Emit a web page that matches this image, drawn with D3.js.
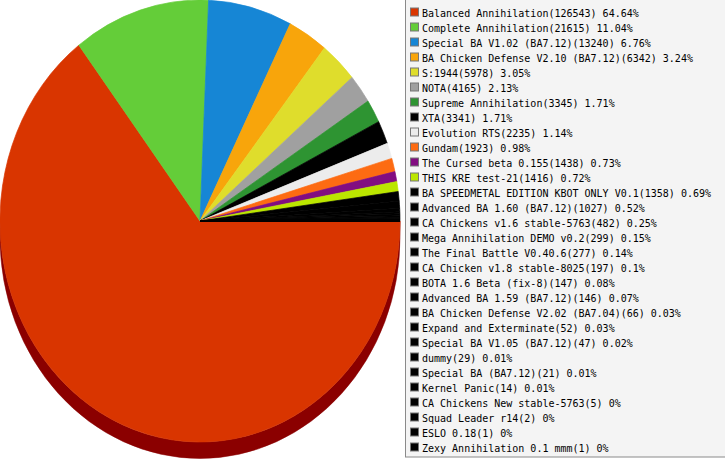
<!DOCTYPE html>
<html>
<head>
<meta charset="utf-8">
<script src="https://cdn.jsdelivr.net/npm/d3@7/dist/d3.min.js"></script>
<style>
html,body{margin:0;padding:0;background:#fff;}
svg{display:block;}
</style>
</head>
<body>
<svg id="chart" width="725" height="460"></svg>
<script>
const categories = [
  "Balanced Annihilation", "Complete Annihilation", "Special BA V1.02 (BA7.12)",
  "BA Chicken Defense V2.10 (BA7.12)", "S:1944", "NOTA", "Supreme Annihilation", "XTA",
  "Evolution RTS", "Gundam", "The Cursed beta 0.155", "THIS KRE test-21",
  "BA SPEEDMETAL EDITION KBOT ONLY V0.1", "Advanced BA 1.60 (BA7.12)",
  "CA Chickens v1.6 stable-5763", "Mega Annihilation DEMO v0.2", "The Final Battle V0.40.6",
  "CA Chicken v1.8 stable-8025", "BOTA 1.6 Beta (fix-8)", "Advanced BA 1.59 (BA7.12)",
  "BA Chicken Defense V2.02 (BA7.04)", "Expand and Exterminate", "Special BA V1.05 (BA7.12)",
  "dummy", "Special BA (BA7.12)", "Kernel Panic", "CA Chickens New stable-5763",
  "Squad Leader r14", "ESLO 0.18", "Zexy Annihilation 0.1 mmm"
];
const values = [
  126543, 21615, 13240, 6342, 5978, 4165, 3345, 3341, 2235, 1923, 1438, 1416,
  1358, 1027, 482, 299, 277, 197, 147, 146, 66, 52, 47, 29, 21, 14, 5, 2, 1, 1
];
const colors = [
  "#d93500", "#64cd39", "#1686d5", "#f8a50b", "#dfdd2c", "#a0a0a0", "#2e9432", "#000000",
  "#ececec", "#fd6b12", "#820d81", "#bbe600"
];
const sideColors = ["#8b0000"];
const otherColor = "#000000";

const data = categories.map((c, i) => ({
  name: c, value: values[i], color: colors[i] || otherColor,
  side: sideColors[i] || d3.color(colors[i] || otherColor).darker(1.2).formatHex()
}));
const total = d3.sum(values);

const svg = d3.select("#chart");
const cx = 200, cy = 221, rx = 200, ry = 221, depth = 16.5;

// d3.pie angles are clockwise from 12 o'clock; start at 3 o'clock
const pie = d3.pie().value(d => d.value).sort(null)
  .startAngle(Math.PI / 2).endAngle(Math.PI / 2 + 2 * Math.PI);
const arcs = pie(data);
const toScreen = a => a - Math.PI / 2; // clockwise from east
const pt = (t, dy = 0) => [cx + rx * Math.cos(t), cy + ry * Math.sin(t) + dy];

function slicePath(t0, t1) {
  const p0 = pt(t0), p1 = pt(t1);
  const large = (t1 - t0) > Math.PI ? 1 : 0;
  return `M${cx},${cy}L${p0[0]},${p0[1]}A${rx},${ry} 0 ${large} 1 ${p1[0]},${p1[1]}Z`;
}
function sidePath(t0, t1) {
  const s = Math.max(t0, 0), e = Math.min(t1, Math.PI);
  if (e <= s) return null;
  const a = pt(s), b = pt(e), c = pt(e, depth), d = pt(s, depth);
  return `M${a[0]},${a[1]}A${rx},${ry} 0 0 1 ${b[0]},${b[1]}L${c[0]},${c[1]}A${rx},${ry} 0 0 0 ${d[0]},${d[1]}Z`;
}

const gPie = svg.append("g");
// side faces
arcs.forEach(a => {
  const p = sidePath(toScreen(a.startAngle), toScreen(a.endAngle));
  if (p) gPie.append("path").attr("d", p)
    .attr("fill", a.data.side).attr("stroke", a.data.side).attr("stroke-width", 0.5);
});
// top faces
gPie.selectAll("path.slice").data(arcs).join("path")
  .attr("class", "slice")
  .attr("d", a => slicePath(toScreen(a.startAngle), toScreen(a.endAngle)))
  .attr("fill", a => a.data.color)
  .attr("stroke", a => a.data.color).attr("stroke-width", 0.7)
  .attr("stroke-linejoin", "bevel");

// legend
const lg = svg.append("g");
lg.append("rect").attr("x", 405.5).attr("y", -1).attr("width", 330).attr("height", 458)
  .attr("fill", "#f4f4f4").attr("stroke", "#8a8a8a").attr("stroke-width", 1);

const fmtPct = v => +(v / total * 100).toFixed(2) + "%";
const yRow = d3.scaleLinear().domain([0, 1]).range([12.5, 27.5]);

const rows = lg.selectAll("g.row").data(data).join("g").attr("class", "row")
  .attr("transform", (d, i) => `translate(0,${yRow(i)})`);
rows.append("rect").attr("x", 410.5).attr("y", -4.5).attr("width", 8).attr("height", 8)
  .attr("fill", d => d.color).attr("stroke", "#777").attr("stroke-width", 1);
rows.append("text").attr("x", 422).attr("y", 4)
  .attr("font-family", "DejaVu Sans Mono, monospace").attr("font-size", "10px")
  .attr("fill", "#000")
  .text(d => `${d.name}(${d.value}) ${fmtPct(d.value)}`);
</script>
</body>
</html>
